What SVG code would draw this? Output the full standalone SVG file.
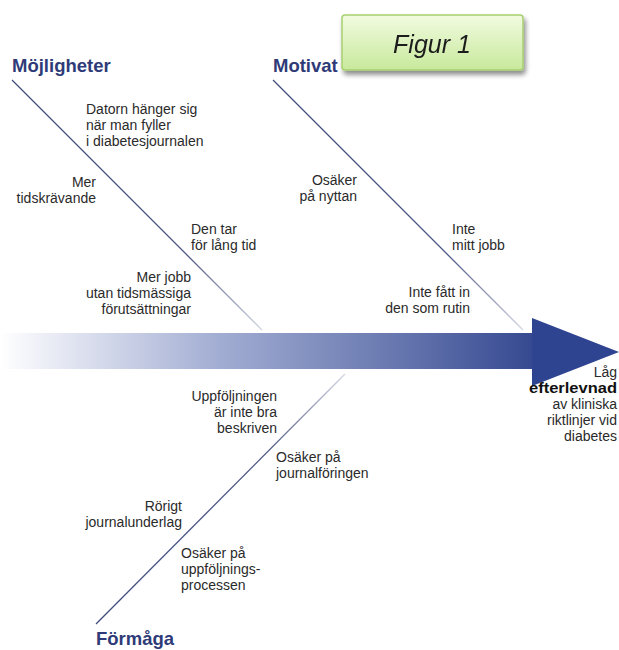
<svg xmlns="http://www.w3.org/2000/svg" width="619" height="650" viewBox="0 0 619 650">
<style>
.t{font-family:"Liberation Sans",Arial,sans-serif;font-size:14px;fill:#2a2a2a}
.r{text-anchor:end}
.h{font-family:"Liberation Sans",Arial,sans-serif;font-size:18.5px;font-weight:bold;fill:#2f3b78}
.b{font-weight:bold;fill:#111}
.fig{font-family:"Liberation Sans",Arial,sans-serif;font-size:25px;font-style:italic;fill:#1e1e1e;text-anchor:middle}
</style>
<defs>
<linearGradient id="shaft" x1="0" y1="0" x2="540" y2="0" gradientUnits="userSpaceOnUse">
<stop offset="0" stop-color="#ffffff"/>
<stop offset="0.05" stop-color="#f4f5fa"/>
<stop offset="0.4" stop-color="#a3aed3"/>
<stop offset="0.75" stop-color="#6474ad"/>
<stop offset="1" stop-color="#33478f"/>
</linearGradient>
<linearGradient id="g1" x1="12" y1="80" x2="262" y2="330" gradientUnits="userSpaceOnUse">
<stop offset="0" stop-color="#3f4b7c"/>
<stop offset="0.7" stop-color="#4d5886"/>
<stop offset="1" stop-color="#d4d7e3"/>
</linearGradient>
<linearGradient id="g2" x1="273" y1="80" x2="523" y2="330" gradientUnits="userSpaceOnUse">
<stop offset="0" stop-color="#3f4b7c"/>
<stop offset="0.7" stop-color="#4d5886"/>
<stop offset="1" stop-color="#d4d7e3"/>
</linearGradient>
<linearGradient id="g3" x1="96" y1="624" x2="345" y2="374" gradientUnits="userSpaceOnUse">
<stop offset="0" stop-color="#3f4b7c"/>
<stop offset="0.7" stop-color="#4d5886"/>
<stop offset="1" stop-color="#d4d7e3"/>
</linearGradient>
<linearGradient id="box" x1="0" y1="0" x2="0" y2="1">
<stop offset="0" stop-color="#f1fbe0"/>
<stop offset="1" stop-color="#c8e99c"/>
</linearGradient>
<filter id="sh" x="-10%" y="-20%" width="125%" height="160%">
<feGaussianBlur in="SourceAlpha" stdDeviation="2.5"/>
<feOffset dx="2" dy="4" result="o"/>
<feComponentTransfer><feFuncA type="linear" slope="0.45"/></feComponentTransfer>
<feMerge><feMergeNode/><feMergeNode in="SourceGraphic"/></feMerge>
</filter>
</defs>
<rect width="619" height="650" fill="#ffffff"/>

<g id="connectors" fill="none" stroke-width="1.3">
<line x1="12" y1="80" x2="262" y2="330" stroke="url(#g1)"/>
<line x1="273" y1="80" x2="523" y2="330" stroke="url(#g2)"/>
<line x1="96" y1="624" x2="345" y2="374" stroke="url(#g3)"/>
</g>

<g id="spine">
<rect x="0" y="333" width="534" height="36" fill="url(#shaft)"/>
<polygon points="532,318 619,352 532,386" fill="#2f4491"/>
</g>

<g id="mojligheter"><text class="h" x="12" y="72">Möjligheter</text></g>
<g id="motivation"><text class="h" x="273" y="72">Motivat</text></g>
<g id="formaga"><text class="h" x="96" y="645">Förmåga</text></g>

<g id="figur" filter="url(#sh)">
<rect x="342" y="15" width="181" height="55" rx="3" fill="url(#box)" stroke="#a8d070" stroke-width="1.5"/>
<text class="fig" x="432" y="53">Figur 1</text>
</g>

<g id="m1"><text class="t" x="86"><tspan x="86" y="114">Datorn hänger sig</tspan><tspan x="86" y="130">när man fyller</tspan><tspan x="86" y="146">i diabetesjournalen</tspan></text></g>
<g id="m2"><text class="t r"><tspan x="96" y="187">Mer</tspan><tspan x="96" y="203">tidskrävande</tspan></text></g>
<g id="m3"><text class="t"><tspan x="191" y="234">Den tar</tspan><tspan x="191" y="250">för lång tid</tspan></text></g>
<g id="m4"><text class="t r"><tspan x="191" y="282">Mer jobb</tspan><tspan x="191" y="298">utan tidsmässiga</tspan><tspan x="191" y="314">förutsättningar</tspan></text></g>

<g id="v1"><text class="t r"><tspan x="357" y="185">Osäker</tspan><tspan x="357" y="201">på nyttan</tspan></text></g>
<g id="v2"><text class="t"><tspan x="452" y="234">Inte</tspan><tspan x="452" y="250">mitt jobb</tspan></text></g>
<g id="v3"><text class="t r"><tspan x="470" y="297">Inte fått in</tspan><tspan x="470" y="313">den som rutin</tspan></text></g>

<g id="f1"><text class="t r"><tspan x="277" y="401">Uppföljningen</tspan><tspan x="277" y="417">är inte bra</tspan><tspan x="277" y="433">beskriven</tspan></text></g>
<g id="f2"><text class="t"><tspan x="276" y="462">Osäker på</tspan><tspan x="276" y="478">journalföringen</tspan></text></g>
<g id="f3"><text class="t r"><tspan x="182" y="511">Rörigt</tspan><tspan x="182" y="527">journalunderlag</tspan></text></g>
<g id="f4"><text class="t"><tspan x="181" y="558">Osäker på</tspan><tspan x="181" y="574">uppföljnings-</tspan><tspan x="181" y="590">processen</tspan></text></g>

<g id="effekt"><text class="t r"><tspan x="617" y="377">Låg</tspan></text><text class="t b" x="529" y="393" textLength="88" lengthAdjust="spacingAndGlyphs">efterlevnad</text><text class="t r"><tspan x="617" y="409">av kliniska</tspan><tspan x="617" y="425">riktlinjer vid</tspan><tspan x="617" y="441">diabetes</tspan></text></g>
</svg>
